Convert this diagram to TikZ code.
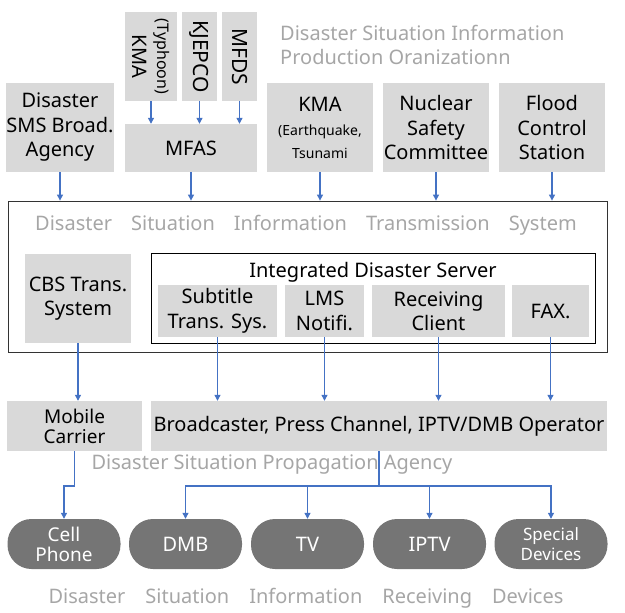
\documentclass[tikz,border=0pt]{standalone}
\usepackage{fontspec}
\setmainfont{Noto Sans}
\usetikzlibrary{arrows.meta,positioning}
\definecolor{boxgray}{HTML}{D9D9D9}
\definecolor{arrblue}{HTML}{4472C4}
\definecolor{pillgray}{HTML}{757575}
\definecolor{ttlgray}{HTML}{A6A6A6}

\begin{document}
\begin{tikzpicture}[x=1pt,y=-1pt,every node/.style={font=\fontsize{20}{24.5}\selectfont,align=center,inner sep=0pt},box/.style={fill=boxgray,minimum width=106pt,minimum height=89pt},vbox/.style={box,rotate=-90,minimum width=89pt,minimum height=35pt},sbox/.style={fill=boxgray,minimum height=52pt},pill/.style={fill=pillgray,text=white,rounded corners=24pt,minimum width=113pt,minimum height=50pt},ttl/.style={text=ttlgray},arr/.style={-{Triangle[length=6pt,width=6pt]},line width=1.1pt,arrblue}]
\useasboundingbox (0,0) rectangle (625,613);
\node[vbox,minimum height=52pt] (kmat) at (151,56.5) {{\fontsize{16}{19}\selectfont(Typhoon)}\\KMA};
\node[vbox,font=\fontsize{21}{24.5}\selectfont] (kjep) at (199.5,56.5) {KJEPCO};
\node[vbox,font=\fontsize{21}{24.5}\selectfont] (mfds) at (239.5,56.5) {MFDS};
\node[box,minimum width=132pt,minimum height=48pt] (mfas) at (191,148) {MFAS};
\node[box] (sms) at (60,127.5) {Disaster\\SMS Broad.\\Agency};
\node[box] (kmae) at (320,127.5) {KMA\\[0pt]{\fontsize{14}{15}\selectfont(Earthquake,}\\[-2pt]{\fontsize{14}{15}\selectfont Tsunami}};
\node[box] (nsc) at (436,127.5) {Nuclear\\Safety\\Committee};
\node[box] (flood) at (552,127.5) {Flood\\Control\\Station};
\node[ttl,anchor=west,align=left] (prodttl) at (280,45) {Disaster Situation Information\\Production Oranizationn};
\node[draw=black!80,line width=0.8pt,minimum width=599pt,minimum height=151pt] (tsys) at (307.5,276.5) {};
\node[ttl] (tsysttl) at (306,225) {Disaster\hspace{19pt}Situation\hspace{19pt}Information\hspace{19pt}Transmission\hspace{19pt}System};
\node[box] (cbs) at (78,298.5) {CBS Trans.\\System};
\node[draw=black,line width=0.8pt,minimum width=444pt,minimum height=90pt] (ids) at (373,298) {};
\node (idsttl) at (373,272) {Integrated Disaster Server};
\node[sbox,minimum width=119pt] (subt) at (217.5,311) {Subtitle\\Trans. Sys.};
\node[sbox,minimum width=79pt] (lms) at (324.5,311) {LMS\\Notifi.};
\node[sbox,minimum width=133pt] (recv) at (438.5,311) {Receiving\\Client};
\node[sbox,minimum width=77pt] (fax) at (550.5,311) {FAX.};
\node[box,minimum width=135pt,minimum height=50pt,font=\fontsize{19}{20}\selectfont] (mobile) at (74.5,426) {Mobile\\Carrier};
\node[box,minimum width=456pt,minimum height=50pt] (bcast) at (379,426) {Broadcaster, Press Channel, IPTV/DMB Operator};
\node[ttl] (propttl) at (272,465) {Disaster Situation Propagation Agency};
\node[pill,font=\fontsize{19}{20}\selectfont] (cell) at (64,544) {Cell\\Phone};
\node[pill] (dmb) at (185.5,544) {DMB};
\node[pill] (tv) at (307.5,544) {TV};
\node[pill] (iptv) at (429.5,544) {IPTV};
\node[pill,font=\fontsize{17}{20}\selectfont] (spec) at (551,544) {Special\\Devices};
\node[ttl] (devttl) at (306,598) {Disaster\hspace{20pt}Situation\hspace{20pt}Information\hspace{20pt}Receiving\hspace{20pt}Devices};
\foreach \s in {kmat,kjep,mfds}
  \draw[arr] (\s.east) -- (\s.east |- mfas.north);
\foreach \s in {sms,mfas,kmae,nsc,flood}
  \draw[arr] (\s.south) -- (\s.south |- tsys.north);
\draw[arr] (cbs.south) -- (cbs.south |- mobile.north);
\foreach \s in {subt,lms,recv,fax}
  \draw[arr] (\s.south) -- (\s.south |- bcast.north);
\coordinate (bus) at (bcast.south |- 0,486);
\coordinate (mbend) at (mobile.south |- bus);
\draw[arr] (mobile.south) -- (mbend) -| (cell.north);
\foreach \d in {dmb,tv,iptv,spec}
  \draw[arr] (bcast.south) -- (bus) -| (\d.north);
\end{tikzpicture}
\end{document}
